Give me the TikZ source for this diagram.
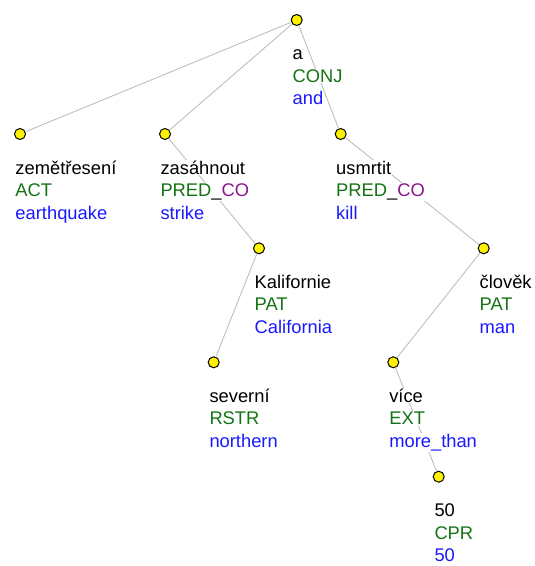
\documentclass[tikz,border=0pt]{standalone}
\usepackage{fontspec}
\setmainfont{Liberation Sans}
\definecolor{fgreen}{RGB}{20,115,20}
\definecolor{gblue}{RGB}{25,25,255}
\definecolor{cpurple}{RGB}{140,20,140}
\definecolor{edgegray}{RGB}{190,190,190}
\begin{document}
\begin{tikzpicture}[x=1bp,y=-1bp,
  dot/.style={circle,draw=black,fill=yellow,line width=1bp,minimum size=11bp,inner sep=0pt},
  edge/.style={draw=edgegray,line width=0.9bp},
  txt/.style={anchor=base west,fill=white,inner sep=0.8bp,font=\fontsize{18.4pt}{22pt}\selectfont}]

\useasboundingbox (0,0) rectangle (535,566);

% nodes of the tree
\node(root) at (296.7,20) [dot] {};
\node(zem) at (20,134) [dot] {};
\node(zas) at (165,134) [dot] {};
\node(usm) at (340.7,134) [dot] {};
\node(kal) at (259,248.3) [dot] {};
\node(clo) at (483.7,248.3) [dot] {};
\node(sev) at (213.7,362.3) [dot] {};
\node(vic) at (393.3,362.3) [dot] {};
\node(pad) at (438.7,476.7) [dot] {};

\draw[edge] (root) -- (zem);
\draw[edge] (root) -- (zas);
\draw[edge] (root) -- (usm);
\draw[edge] (zas) -- (kal);
\draw[edge] (kal) -- (sev);
\draw[edge] (usm) -- (clo);
\draw[edge] (clo) -- (vic);
\draw[edge] (vic) -- (pad);

% labels: word, functor, gloss
\node(root-w) at (291.7,60) [txt] {a};
\node(root-f) at (291.7,82.5) [txt,text=fgreen] {CONJ};
\node(root-g) at (291.7,105) [txt,text=gblue] {and};

\node(zem-w) at (14.5,174) [txt] {zemětřesení};
\node(zem-f) at (14.5,196.5) [txt,text=fgreen] {ACT};
\node(zem-g) at (14.5,219) [txt,text=gblue] {earthquake};

\node(zas-w) at (159.5,174) [txt] {zasáhnout};
\node(zas-f) at (159.5,196.5) [txt] {\textcolor{fgreen}{PRED}\_\textcolor{cpurple}{CO}};
\node(zas-g) at (159.5,219) [txt,text=gblue] {strike};

\node(usm-w) at (335.2,174) [txt] {usmrtit};
\node(usm-f) at (335.2,196.5) [txt] {\textcolor{fgreen}{PRED}\_\textcolor{cpurple}{CO}};
\node(usm-g) at (335.2,219) [txt,text=gblue] {kill};

\node(kal-w) at (253.7,288.3) [txt] {Kalifornie};
\node(kal-f) at (253.7,310.8) [txt,text=fgreen] {PAT};
\node(kal-g) at (253.7,333.3) [txt,text=gblue] {California};

\node(clo-w) at (478.7,288.3) [txt] {člověk};
\node(clo-f) at (478.7,310.8) [txt,text=fgreen] {PAT};
\node(clo-g) at (478.7,333.3) [txt,text=gblue] {man};

\node(sev-w) at (208.5,402.3) [txt] {severní};
\node(sev-f) at (208.5,424.8) [txt,text=fgreen] {RSTR};
\node(sev-g) at (208.5,447.3) [txt,text=gblue] {northern};

\node(vic-w) at (388.3,402.3) [txt] {více};
\node(vic-f) at (388.3,424.8) [txt,text=fgreen] {EXT};
\node(vic-g) at (388.3,447.3) [txt,text=gblue] {more\_than};

\node(pad-w) at (433.5,516.7) [txt] {50};
\node(pad-f) at (433.5,539.2) [txt,text=fgreen] {CPR};
\node(pad-g) at (433.5,561.7) [txt,text=gblue] {50};

\end{tikzpicture}
\end{document}
